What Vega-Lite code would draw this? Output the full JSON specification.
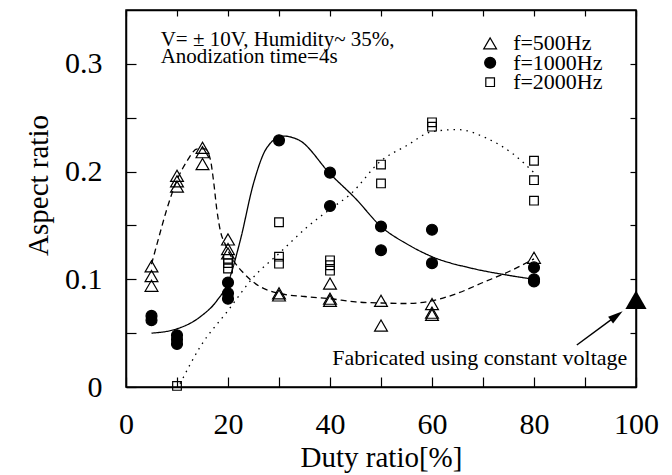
{
  "$schema": "https://vega.github.io/schema/vega-lite/v6.json",
  "width": 510,
  "height": 377,
  "autosize": "none",
  "padding": {"left": 126, "top": 10, "right": 36, "bottom": 88},
  "background": "white",
  "config": {
    "view": {"stroke": "black", "strokeWidth": 1.5},
    "axis": {
      "grid": false,
      "labelFlush": false,
      "domainColor": "black",
      "domainWidth": 1.5,
      "tickColor": "black",
      "tickWidth": 1.2,
      "labelFont": "Liberation Serif",
      "labelFontSize": 30,
      "labelColor": "black",
      "titleFont": "Liberation Serif",
      "titleFontSize": 29,
      "titleFontWeight": "normal",
      "titleColor": "black"
    }
  },
  "datasets": {
    "pts": [
      {"s": "f=500Hz", "x": 5, "y": 0.112}, {"s": "f=500Hz", "x": 5, "y": 0.103}, {"s": "f=500Hz", "x": 5, "y": 0.094},
      {"s": "f=500Hz", "x": 10, "y": 0.196}, {"s": "f=500Hz", "x": 10, "y": 0.191}, {"s": "f=500Hz", "x": 10, "y": 0.186},
      {"s": "f=500Hz", "x": 15, "y": 0.222}, {"s": "f=500Hz", "x": 15, "y": 0.218}, {"s": "f=500Hz", "x": 15, "y": 0.207},
      {"s": "f=500Hz", "x": 20, "y": 0.137}, {"s": "f=500Hz", "x": 20, "y": 0.128}, {"s": "f=500Hz", "x": 20, "y": 0.124},
      {"s": "f=500Hz", "x": 30, "y": 0.087}, {"s": "f=500Hz", "x": 30, "y": 0.085},
      {"s": "f=500Hz", "x": 40, "y": 0.096}, {"s": "f=500Hz", "x": 40, "y": 0.082}, {"s": "f=500Hz", "x": 40, "y": 0.080},
      {"s": "f=500Hz", "x": 50, "y": 0.080}, {"s": "f=500Hz", "x": 50, "y": 0.057},
      {"s": "f=500Hz", "x": 60, "y": 0.077}, {"s": "f=500Hz", "x": 60, "y": 0.069}, {"s": "f=500Hz", "x": 60, "y": 0.067},
      {"s": "f=500Hz", "x": 80, "y": 0.120},
      {"s": "f=1000Hz", "x": 5, "y": 0.066}, {"s": "f=1000Hz", "x": 5, "y": 0.062},
      {"s": "f=1000Hz", "x": 10, "y": 0.048}, {"s": "f=1000Hz", "x": 10, "y": 0.044}, {"s": "f=1000Hz", "x": 10, "y": 0.040},
      {"s": "f=1000Hz", "x": 20, "y": 0.097}, {"s": "f=1000Hz", "x": 20, "y": 0.087}, {"s": "f=1000Hz", "x": 20, "y": 0.082},
      {"s": "f=1000Hz", "x": 30, "y": 0.229},
      {"s": "f=1000Hz", "x": 40, "y": 0.199}, {"s": "f=1000Hz", "x": 40, "y": 0.168},
      {"s": "f=1000Hz", "x": 50, "y": 0.149}, {"s": "f=1000Hz", "x": 50, "y": 0.127},
      {"s": "f=1000Hz", "x": 60, "y": 0.146}, {"s": "f=1000Hz", "x": 60, "y": 0.115},
      {"s": "f=1000Hz", "x": 80, "y": 0.111}, {"s": "f=1000Hz", "x": 80, "y": 0.100}, {"s": "f=1000Hz", "x": 80, "y": 0.098},
      {"s": "f=2000Hz", "x": 10, "y": 0.001},
      {"s": "f=2000Hz", "x": 20, "y": 0.119}, {"s": "f=2000Hz", "x": 20, "y": 0.115}, {"s": "f=2000Hz", "x": 20, "y": 0.110},
      {"s": "f=2000Hz", "x": 30, "y": 0.153}, {"s": "f=2000Hz", "x": 30, "y": 0.121}, {"s": "f=2000Hz", "x": 30, "y": 0.1145},
      {"s": "f=2000Hz", "x": 40, "y": 0.1176}, {"s": "f=2000Hz", "x": 40, "y": 0.113}, {"s": "f=2000Hz", "x": 40, "y": 0.108},
      {"s": "f=2000Hz", "x": 50, "y": 0.2065}, {"s": "f=2000Hz", "x": 50, "y": 0.189},
      {"s": "f=2000Hz", "x": 60, "y": 0.2457}, {"s": "f=2000Hz", "x": 60, "y": 0.2417},
      {"s": "f=2000Hz", "x": 80, "y": 0.210}, {"s": "f=2000Hz", "x": 80, "y": 0.192}, {"s": "f=2000Hz", "x": 80, "y": 0.173}
    ],
    "curves": [
      {"s": "f=500Hz", "x": 5, "y": 0.114}, {"s": "f=500Hz", "x": 6.5, "y": 0.14}, {"s": "f=500Hz", "x": 8, "y": 0.165},
      {"s": "f=500Hz", "x": 10, "y": 0.192}, {"s": "f=500Hz", "x": 12, "y": 0.21}, {"s": "f=500Hz", "x": 14, "y": 0.221},
      {"s": "f=500Hz", "x": 15.5, "y": 0.221}, {"s": "f=500Hz", "x": 16.5, "y": 0.212}, {"s": "f=500Hz", "x": 17.2, "y": 0.19},
      {"s": "f=500Hz", "x": 17.8, "y": 0.165}, {"s": "f=500Hz", "x": 18.5, "y": 0.145}, {"s": "f=500Hz", "x": 19.5, "y": 0.132},
      {"s": "f=500Hz", "x": 21, "y": 0.118}, {"s": "f=500Hz", "x": 23, "y": 0.106}, {"s": "f=500Hz", "x": 26, "y": 0.094},
      {"s": "f=500Hz", "x": 30, "y": 0.087}, {"s": "f=500Hz", "x": 35, "y": 0.084}, {"s": "f=500Hz", "x": 40, "y": 0.082},
      {"s": "f=500Hz", "x": 45, "y": 0.079}, {"s": "f=500Hz", "x": 50, "y": 0.078}, {"s": "f=500Hz", "x": 55, "y": 0.0775},
      {"s": "f=500Hz", "x": 60, "y": 0.080}, {"s": "f=500Hz", "x": 65, "y": 0.087}, {"s": "f=500Hz", "x": 70, "y": 0.097},
      {"s": "f=500Hz", "x": 75, "y": 0.107}, {"s": "f=500Hz", "x": 80, "y": 0.119},
      {"s": "f=1000Hz", "x": 5, "y": 0.050}, {"s": "f=1000Hz", "x": 10, "y": 0.054}, {"s": "f=1000Hz", "x": 14.5, "y": 0.065},
      {"s": "f=1000Hz", "x": 17.8, "y": 0.080}, {"s": "f=1000Hz", "x": 20, "y": 0.097}, {"s": "f=1000Hz", "x": 22.4, "y": 0.136},
      {"s": "f=1000Hz", "x": 25, "y": 0.189}, {"s": "f=1000Hz", "x": 27.6, "y": 0.222}, {"s": "f=1000Hz", "x": 30.8, "y": 0.233},
      {"s": "f=1000Hz", "x": 34, "y": 0.229}, {"s": "f=1000Hz", "x": 40, "y": 0.198}, {"s": "f=1000Hz", "x": 45, "y": 0.175},
      {"s": "f=1000Hz", "x": 50, "y": 0.149}, {"s": "f=1000Hz", "x": 55, "y": 0.133}, {"s": "f=1000Hz", "x": 60, "y": 0.121},
      {"s": "f=1000Hz", "x": 68, "y": 0.110}, {"s": "f=1000Hz", "x": 74.6, "y": 0.104}, {"s": "f=1000Hz", "x": 80, "y": 0.100},
      {"s": "f=2000Hz", "x": 10.6, "y": 0.003}, {"s": "f=2000Hz", "x": 14.5, "y": 0.037}, {"s": "f=2000Hz", "x": 20, "y": 0.071},
      {"s": "f=2000Hz", "x": 25, "y": 0.102}, {"s": "f=2000Hz", "x": 30, "y": 0.124}, {"s": "f=2000Hz", "x": 35.4, "y": 0.148},
      {"s": "f=2000Hz", "x": 40, "y": 0.165}, {"s": "f=2000Hz", "x": 44, "y": 0.179}, {"s": "f=2000Hz", "x": 50, "y": 0.21},
      {"s": "f=2000Hz", "x": 55, "y": 0.224}, {"s": "f=2000Hz", "x": 60, "y": 0.237}, {"s": "f=2000Hz", "x": 65, "y": 0.239},
      {"s": "f=2000Hz", "x": 70.7, "y": 0.231}, {"s": "f=2000Hz", "x": 76, "y": 0.216}, {"s": "f=2000Hz", "x": 80, "y": 0.199}
    ],
    "key": [
      {"s": "f=500Hz", "x": 71.4, "y": 0.3125},
      {"s": "f=1000Hz", "x": 71.4, "y": 0.2945},
      {"s": "f=2000Hz", "x": 71.4, "y": 0.2765}
    ],
    "arrow": [{"x": 88.4, "y": 0.039}, {"x": 96.2, "y": 0.0662}],
    "arrowhead": [{"x": 96.2, "y": 0.0662}],
    "cv": [{"x": 100, "y": 0.081}],
    "notes": [
      {"t": "V= ± 10V, Humidity~ 35%,", "x": 6.8, "y": 0.3167},
      {"t": "Anodization time=4s", "x": 6.8, "y": 0.3005}
    ],
    "fab": [{"t": "Fabricated using constant voltage", "x": 98.3, "y": 0.0204}]
  },
  "layer": [
    {
      "encoding": {
        "x": {
          "field": "x", "type": "quantitative",
          "scale": {"domain": [0, 100], "nice": false},
          "title": "Duty ratio[%]",
          "axis": {
            "values": [0, 10, 20, 30, 40, 50, 60, 70, 80, 90, 100],
            "labelExpr": "datum.value % 20 === 0 ? datum.label : ''",
            "tickSize": -10, "labelPadding": 32,
            "titleY": 79, "titleBaseline": "alphabetic"
          }
        },
        "y": {
          "field": "y", "type": "quantitative",
          "scale": {"domain": [0, 0.35], "nice": false},
          "title": "Aspect ratio",
          "axis": {
            "values": [0, 0.05, 0.1, 0.15, 0.2, 0.25, 0.3],
            "format": "~g",
            "labelExpr": "abs(datum.value * 10 - round(datum.value * 10)) < 0.001 ? datum.label : ''",
            "tickSize": -10, "labelPadding": 34,
            "titleX": -79, "titleY": 175, "titleBaseline": "alphabetic"
          }
        }
      },
      "layer": [
        {
          "data": {"name": "curves"},
          "mark": {"type": "line", "color": "black", "strokeWidth": 1.3, "interpolate": "monotone"},
          "encoding": {
            "detail": {"field": "s"},
            "strokeDash": {
              "field": "s", "type": "nominal",
              "scale": {"domain": ["f=500Hz", "f=1000Hz", "f=2000Hz"], "range": [[6, 4], [1, 0], [1.5, 5]]},
              "legend": null
            }
          }
        },
        {
          "data": {"name": "pts"},
          "mark": {"type": "point", "filled": true, "opacity": 1, "stroke": "black", "strokeWidth": 1.2},
          "encoding": {
            "shape": {
              "field": "s", "type": "nominal", "legend": null,
              "scale": {"domain": ["f=500Hz", "f=1000Hz", "f=2000Hz"], "range": ["triangle-up", "circle", "square"]}
            },
            "fill": {
              "field": "s", "type": "nominal", "legend": null,
              "scale": {"domain": ["f=500Hz", "f=1000Hz", "f=2000Hz"], "range": ["transparent", "black", "transparent"]}
            },
            "size": {
              "field": "s", "type": "nominal", "legend": null,
              "scale": {"domain": ["f=500Hz", "f=1000Hz", "f=2000Hz"], "range": [165, 75, 100]}
            }
          }
        },
        {
          "data": {"name": "key"},
          "mark": {"type": "point", "filled": true, "opacity": 1, "stroke": "black", "strokeWidth": 1.2, "yOffset": -7},
          "encoding": {
            "shape": {"field": "s", "type": "nominal", "legend": null},
            "fill": {"field": "s", "type": "nominal", "legend": null},
            "size": {"field": "s", "type": "nominal", "legend": null}
          }
        },
        {
          "data": {"name": "key"},
          "mark": {"type": "text", "align": "left", "baseline": "alphabetic", "dx": 23, "font": "Liberation Serif", "fontSize": 22, "color": "black"},
          "encoding": {"text": {"field": "s"}}
        },
        {
          "data": {"name": "arrow"},
          "mark": {"type": "line", "color": "black", "strokeWidth": 1.5},
          "encoding": {}
        },
        {
          "data": {"name": "arrowhead"},
          "mark": {"type": "point", "shape": "M0,-1L-0.55,1L0.55,1Z", "angle": 53.5, "filled": true, "color": "black", "opacity": 1, "size": 225}
        },
        {
          "data": {"name": "cv"},
          "mark": {"type": "point", "shape": "triangle-up", "filled": true, "color": "black", "opacity": 1, "size": 450}
        },
        {
          "data": {"name": "notes"},
          "mark": {"type": "text", "align": "left", "baseline": "alphabetic", "font": "Liberation Serif", "fontSize": 21, "color": "black"},
          "encoding": {"text": {"field": "t"}}
        },
        {
          "data": {"name": "fab"},
          "mark": {"type": "text", "align": "right", "baseline": "alphabetic", "font": "Liberation Serif", "fontSize": 22, "color": "black"},
          "encoding": {"text": {"field": "t"}}
        }
      ]
    },
    {
      "data": {"name": "cv"},
      "mark": {"type": "point", "opacity": 0},
      "encoding": {
        "x": {
          "field": "x", "type": "quantitative",
          "scale": {"domain": [0, 100], "nice": false},
          "axis": {"orient": "top", "title": null, "labels": false, "values": [0, 10, 20, 30, 40, 50, 60, 70, 80, 90, 100], "tickSize": -6}
        },
        "y": {
          "field": "y", "type": "quantitative",
          "scale": {"domain": [0, 0.35], "nice": false},
          "axis": {"orient": "right", "title": null, "labels": false, "values": [0, 0.05, 0.1, 0.15, 0.2, 0.25, 0.3], "tickSize": -6}
        }
      }
    }
  ],
  "resolve": {"axis": {"x": "independent", "y": "independent"}}
}
